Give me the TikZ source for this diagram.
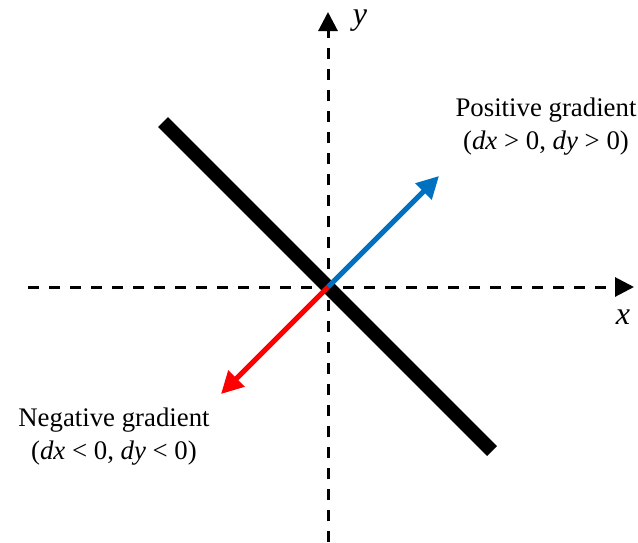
\documentclass[tikz,border=0pt]{standalone}
\usepackage{fontspec}
\setmainfont{Liberation Serif}
\usetikzlibrary{arrows.meta}
\definecolor{posblue}{RGB}{0,112,192}
\definecolor{negred}{RGB}{255,0,0}
\begin{document}
\begin{tikzpicture}[x=1pt,y=-1pt,
  axis/.style={line width=3pt,dash pattern=on 11pt off 10pt,-{Triangle[length=19pt,width=19pt]}},
  grad/.style={line width=5pt,-{Triangle[length=22pt,width=22pt]}},
  lbl/.style={font=\fontsize{26.8}{33}\selectfont,align=center,inner sep=0pt},
  axlbl/.style={font=\fontsize{32}{36}\selectfont\itshape,inner sep=0pt}]
\useasboundingbox (0,0) rectangle (638,542);
\coordinate (xs) at (28,287);
\coordinate (xe) at (634,287);
\coordinate (ys) at (328,542);
\coordinate (ye) at (328,12);
\coordinate (o) at (328,287);
\coordinate (l1) at (163,122);
\coordinate (l2) at (492,451);
\coordinate (pt) at (439,176);
\coordinate (nt) at (221,394);
\draw[axis] (xs) -- (xe);
\draw[axis] (ys) -- (ye);
\draw[line width=14pt] (l1) -- (l2);
\draw[grad,posblue] (o) -- (pt);
\draw[grad,negred] (o) -- (nt);
\node[axlbl] (xl) at (623,317) {x};
\node[axlbl] (yl) at (360,21) {y};
\node[lbl] (pos) at (546,127) {Positive gradient\\(\textit{dx} > 0, \textit{dy} > 0)};
\node[lbl] (neg) at (114,437) {Negative gradient\\(\textit{dx} < 0, \textit{dy} < 0)};
\end{tikzpicture}
\end{document}
